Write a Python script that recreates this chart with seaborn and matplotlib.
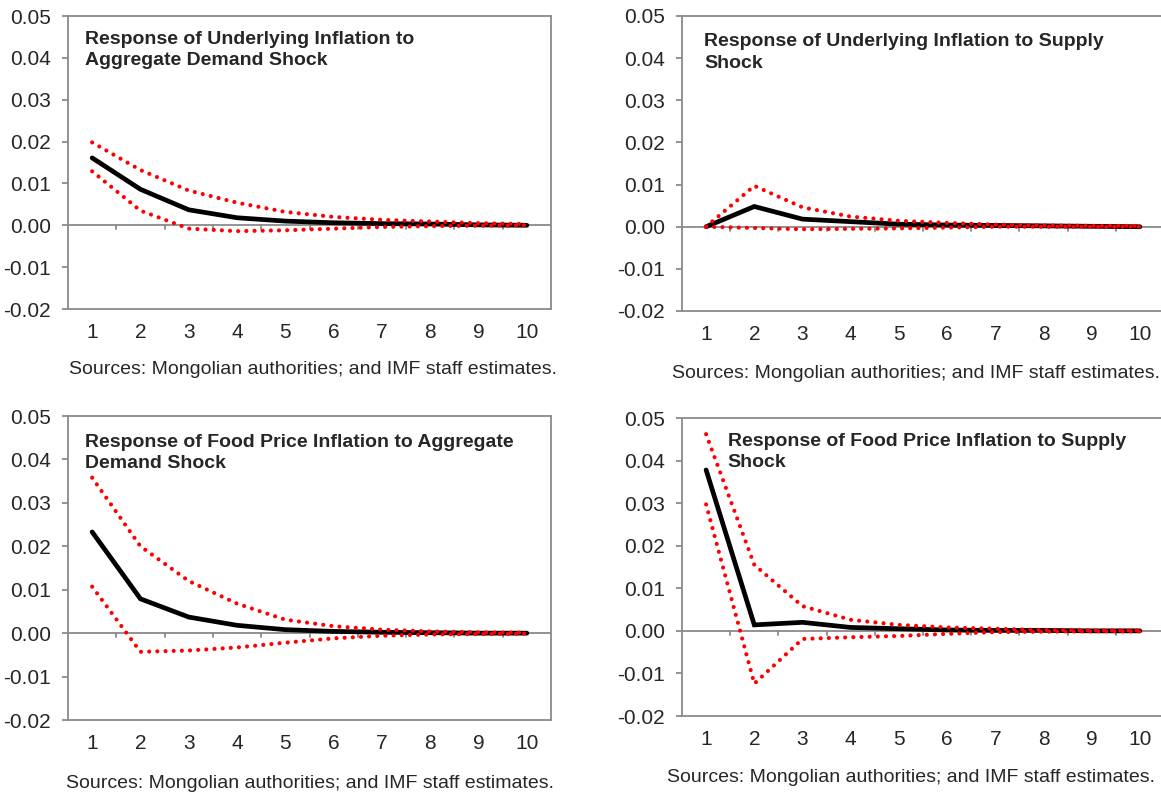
import numpy as np
import pandas as pd
import matplotlib
matplotlib.use("Agg")
import matplotlib.pyplot as plt
from matplotlib.ticker import FormatStrFormatter
import seaborn as sns

sns.set_style("white")
plt.rcParams["font.family"] = ["Liberation Sans", "DejaVu Sans"]
plt.rcParams["axes.unicode_minus"] = False

# ---------------- data ----------------
periods = [1, 2, 3, 4, 5, 6, 7, 8, 9, 10]

# Underlying inflation to aggregate demand shock
ui_ad_mean = [0.0161, 0.0086, 0.0037, 0.0018, 0.0010, 0.0006, 0.0004, 0.0003, 0.0001, 0.0000]
ui_ad_hi = [0.0198, 0.0132, 0.0083, 0.0054, 0.0032, 0.0020, 0.0013, 0.0009, 0.0005, 0.0003]
ui_ad_lo = [0.0129, 0.0035, -0.0008, -0.0014, -0.0012, -0.0008, -0.0004, -0.0002, -0.0001, 0.0000]

# Underlying inflation to supply shock
ui_s_mean = [0.0000, 0.0048, 0.0018, 0.0012, 0.0006, 0.0004, 0.0003, 0.0002, 0.0001, 0.0000]
ui_s_hi = [0.0000, 0.0097, 0.0046, 0.0024, 0.0014, 0.0009, 0.0005, 0.0003, 0.0002, 0.0002]
ui_s_lo = [0.0000, -0.0003, -0.0006, -0.0005, -0.0004, -0.0002, 0.0000, 0.0000, 0.0000, 0.0000]

# Food price inflation to aggregate demand shock
fp_ad_mean = [0.0233, 0.0079, 0.0037, 0.0018, 0.0008, 0.0004, 0.0002, 0.0001, 0.0000, 0.0000]
fp_ad_hi = [0.0358, 0.0200, 0.0120, 0.0068, 0.0031, 0.0016, 0.0008, 0.0004, 0.0002, 0.0001]
fp_ad_lo = [0.0107, -0.0043, -0.0040, -0.0033, -0.0022, -0.0012, -0.0006, -0.0003, -0.0002, -0.0001]

# Food price inflation to supply shock
fp_s_mean = [0.0378, 0.0014, 0.0020, 0.0008, 0.0005, 0.0002, 0.0001, 0.0001, 0.0000, 0.0000]
fp_s_hi = [0.0462, 0.0155, 0.0058, 0.0026, 0.0014, 0.0008, 0.0005, 0.0002, 0.0001, 0.0001]
fp_s_lo = [0.0297, -0.0124, -0.0019, -0.0015, -0.0012, -0.0007, -0.0003, -0.0002, -0.0001, -0.0001]

titles = [
    "Response of Underlying Inflation to\nAggregate Demand Shock",
    "Response of Underlying Inflation to Supply\nShock",
    "Response of Food Price Inflation to Aggregate\nDemand Shock",
    "Response of Food Price Inflation to Supply\nShock",
]
source = "Sources: Mongolian authorities; and IMF staff estimates."
yticks = [-0.02, -0.01, 0.00, 0.01, 0.02, 0.03, 0.04, 0.05]

# ---------------- figure ----------------
W, H = 1161, 796
fig = plt.figure(figsize=(W / 100, H / 100), dpi=100)


def px_axes(left, top, right, bottom):
    return fig.add_axes([left / W, 1 - bottom / H, (right - left) / W, (bottom - top) / H])


GRAY = "#8a8a8a"

panels = [
    dict(box=(68, 16, 551, 309), data=(ui_ad_mean, ui_ad_lo, ui_ad_hi), title=titles[0],
         tpos=(0.035, 0.949), src=(313, 369)),
    dict(box=(682, 16, 1164, 311), data=(ui_s_mean, ui_s_lo, ui_s_hi), title=titles[1],
         tpos=(0.046, 0.942), src=(916, 373)),
    dict(box=(68, 416, 551, 720), data=(fp_ad_mean, fp_ad_lo, fp_ad_hi), title=titles[2],
         tpos=(0.035, 0.941), src=(310, 783)),
    dict(box=(682, 418, 1164, 716), data=(fp_s_mean, fp_s_lo, fp_s_hi), title=titles[3],
         tpos=(0.095, 0.950), src=(911, 778)),
]

for p in panels:
    ax = px_axes(*p["box"])
    mean, lo, hi = p["data"]
    df = pd.DataFrame({"period": periods, "mean": mean, "lo": lo, "hi": hi})

    # zero axis line with category-boundary ticks
    ax.axhline(0, color=GRAY, lw=1.3, zorder=1)
    bounds = np.array(periods[:-1]) + 0.5
    for b in bounds:
        ax.plot([b, b], [0, -0.0009], color=GRAY, lw=1.3, zorder=1)

    sns.lineplot(data=df, x="period", y="mean", color="black", lw=3.4, ax=ax,
                 zorder=3, solid_joinstyle="miter")
    for col in ["hi", "lo"]:
        sns.lineplot(data=df, x="period", y=col, color="#ff0000", lw=3.0, ax=ax, zorder=4,
                     linestyle=(0, (0.01, 1.95)), dash_capstyle="round")

    ax.set_xlim(0.5, 10.5)
    ax.set_ylim(-0.02, 0.05)
    ax.set_xticks(periods)
    ax.set_xticklabels([str(v) for v in periods])
    ax.set_yticks(yticks)
    ax.yaxis.set_major_formatter(FormatStrFormatter("%.2f"))
    ax.set_xlabel("")
    ax.set_ylabel("")
    for s in ax.spines.values():
        s.set_visible(True)
        s.set_color(GRAY)
        s.set_linewidth(1.3)
    ax.tick_params(axis="y", left=True, length=4.5, width=1.3, color=GRAY, pad=8,
                   labelsize=15, direction="out")
    ax.tick_params(axis="x", bottom=False, length=0, pad=10, labelsize=15)
    ax.set_facecolor("white")
    ax.text(p["tpos"][0], p["tpos"][1], p["title"], transform=ax.transAxes,
            fontsize=14, fontweight="bold", ha="left", va="top", linespacing=1.35)
    fig.text(p["src"][0] / W, 1 - p["src"][1] / H, source, ha="center", va="center",
             fontsize=14)

fig.savefig("out.png", dpi=100)
